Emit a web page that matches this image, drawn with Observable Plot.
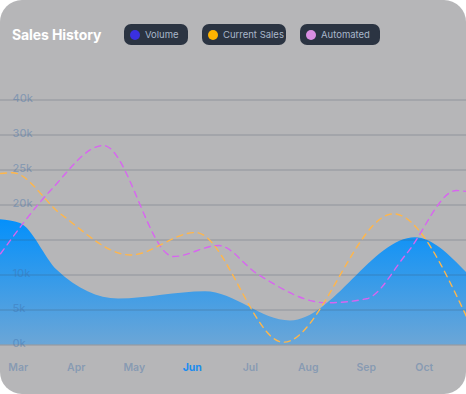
<!DOCTYPE html>
<html>
<head>
<meta charset="utf-8">
<script src="https://cdn.jsdelivr.net/npm/d3@7"></script>
<script src="https://cdn.jsdelivr.net/npm/@observablehq/plot@0.6"></script>
<style>
  html, body { margin: 0; padding: 0; background: #ffffff; }
  #card {
    position: relative; width: 466px; height: 394px; background: #b6b6b8;
    border-radius: 22px; overflow: hidden; font-family: Inter, "Noto Sans", sans-serif;
  }
  #title {
    position: absolute; left: 12px; top: 24px; height: 21px; line-height: 21px;
    font-size: 14px; font-weight: 700; color: #ffffff; letter-spacing: -0.1px;
  }
  .pill {
    position: absolute; top: 24px; height: 21px; border-radius: 7px; background: #2b3442;
    display: flex; align-items: center; box-sizing: border-box; padding-left: 6px;
    font-size: 9.5px; color: #a9b7ca; white-space: nowrap;
  }
  .dot { width: 10px; height: 10px; border-radius: 50%; margin-right: 5px; flex: none; }
  #chart { position: absolute; left: 0; top: 70px; }
  #chart svg { display: block; overflow: visible; }
</style>
</head>
<body>
<div id="card">
  <div id="title">Sales History</div>
  <div id="legend"></div>
  <div id="chart"></div>
</div>
<script>
// Month labels (x index 0..7)
const months = ["Mar", "Apr", "May", "Jun", "Jul", "Aug", "Sep", "Oct"];
const highlightMonth = "Jun";

// Y grid values (in k) and their printed labels
const yTicks = [0, 5, 10, 15, 20, 25, 30, 35];
const yTickLabels = ["0k", "5k", "10k", "", "20k", "25k", "30k", "40k"];

// Series: positions along the month axis (fractional month index) and values in k
const volumeX = [-0.307, 0.038, 0.676, 1.728, 3.228, 4.693, 6.848, 7.728];
const volumeK = [17.9, 17.36, 10.64, 6.57, 7.6, 3.43, 15.31, 10.36];

const currentX = [-0.307, -0.1, 0.728, 1.934, 3.055, 4.572, 6.469, 7.728];
const currentK = [24.5, 24.6, 18.74, 12.86, 16.07, 0.4, 18.74, 4.07];

const automatedX = [-0.307, 0.555, 1.469, 2.676, 3.452, 4.124, 5.314, 6.003, 6.693, 7.555, 7.728];
const automatedK = [13.03, 22.07, 28.5, 12.64, 14.21, 10.14, 6.03, 6.6, 13.03, 22.07, 21.93];

// Legend
const legendNames = ["Volume", "Current Sales", "Automated"];
const legendColors = ["#3a30e0", "#ffb300", "#d98ee2"];
const legendLeft = [124, 202, 300];
const legendWidth = [64, 84, 80];

const lineColors = { current: "#ffb64a", automated: "#d865f0" };

const legend = document.getElementById("legend");
legendNames.forEach((name, i) => {
  const p = document.createElement("div");
  p.className = "pill";
  p.style.left = legendLeft[i] + "px";
  p.style.width = legendWidth[i] + "px";
  const d = document.createElement("span");
  d.className = "dot";
  d.style.background = legendColors[i];
  p.appendChild(d);
  p.appendChild(document.createTextNode(name));
  legend.appendChild(p);
});

const volume = volumeX.map((x, i) => ({x, y: volumeK[i]}));
const current = currentX.map((x, i) => ({x, y: currentK[i]}));
const automated = automatedX.map((x, i) => ({x, y: automatedK[i]}));
const monthData = months.map((m, i) => ({i, m}));

const labelColor = "#3c6eaa";

const chart = Plot.plot({
  width: 466,
  height: 324,
  marginLeft: 0,
  marginRight: 0,
  marginTop: 29.5,
  marginBottom: 49.5,
  style: { background: "transparent", fontFamily: "Inter, sans-serif" },
  x: { domain: [-0.307, 7.728], axis: null },
  y: { domain: [0, 35], axis: null },
  marks: [
    Plot.areaY(volume, { x: "x", y: "y", curve: "monotone-x", fill: "url(#volGrad)" }),
    Plot.ruleY(yTicks, { stroke: "#3f4b5e", strokeOpacity: 0.3, strokeWidth: 1.2 }),
    Plot.text(yTicks, {
      y: d => d, text: (d, i) => yTickLabels[i], frameAnchor: "left", dx: 12, dy: -1.5,
      textAnchor: "start", fill: labelColor, fillOpacity: 0.4, fontSize: 11, fontWeight: 500
    }),
    Plot.line(automated, {
      x: "x", y: "y", curve: "monotone-x", stroke: lineColors.automated,
      strokeWidth: 1.4, strokeDasharray: "6,5"
    }),
    Plot.line(current, {
      x: "x", y: "y", curve: "monotone-x", stroke: lineColors.current,
      strokeWidth: 1.4, strokeDasharray: "6,5"
    }),
    Plot.text(monthData.filter(d => d.m !== highlightMonth), {
      x: "i", text: "m", frameAnchor: "bottom", dy: 25.5,
      fill: labelColor, fillOpacity: 0.4, fontSize: 10.5, fontWeight: 600
    }),
    Plot.text(monthData.filter(d => d.m === highlightMonth), {
      x: "i", text: "m", frameAnchor: "bottom", dy: 25.5,
      fill: "#1b8cf0", fontSize: 10.5, fontWeight: 700
    })
  ]
});

// gradient for the area
const svg = d3.select(chart);
const defs = svg.insert("defs", ":first-child");
const g = defs.append("linearGradient").attr("id", "volGrad")
  .attr("x1", 0).attr("y1", 0).attr("x2", 0).attr("y2", 1);
g.append("stop").attr("offset", "0%").attr("stop-color", "#0490fb");
g.append("stop").attr("offset", "100%").attr("stop-color", "#6ba6d7");

document.getElementById("chart").appendChild(chart);
</script>
</body>
</html>
